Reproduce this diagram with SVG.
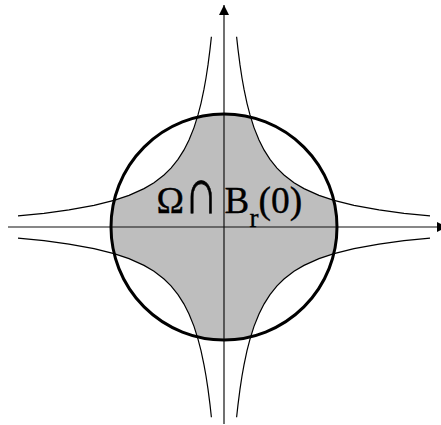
<svg xmlns="http://www.w3.org/2000/svg" xmlns:xlink="http://www.w3.org/1999/xlink" width="441" height="425" viewBox="0 0 441 425">
  <style>
    .curve { fill: none; stroke: #000; stroke-width: 1.2; }
    .axis { fill: none; stroke: #111; stroke-width: 1.2; }
    .fillq { fill: #bebebe; stroke: none; }
    .circle { fill: none; stroke: #000; stroke-width: 3; }
    .lbl { font-family: "Liberation Serif", "DejaVu Serif", serif; fill: #000; stroke: #000; stroke-width: 0.35; }
  </style>
  <defs>
    <path id="hq" d="M12.6,-190.2 L14,-177.6 L16,-162.1 L18,-149 L20,-137.8 L23,-123.7 L26,-112.1 L30,-99.4 L35,-86.95 L40,-77.06 L46,-67.61 L53,-58.93 L60,-52.04 L70,-44.35 L80,-38.4 L95,-31.64 L110,-26.6 L130,-21.59 L155,-17.05 L180,-13.72 L206,-11.08"/>
    <path id="fq" d="M0,0 L0,-190.2 L12.6,-190.2 L14,-177.6 L16,-162.1 L18,-149 L20,-137.8 L23,-123.7 L26,-112.1 L30,-99.4 L35,-86.95 L40,-77.06 L46,-67.61 L53,-58.93 L60,-52.04 L70,-44.35 L80,-38.4 L95,-31.64 L110,-26.6 L130,-21.59 L155,-17.05 L180,-13.72 L206,-11.08 L206,0 Z"/>
    <clipPath id="disk">
      <circle cx="0" cy="0" r="113"/>
    </clipPath>
    <marker id="arr" viewBox="0 0 10 10" refX="10" refY="5" markerWidth="10" markerHeight="10" markerUnits="userSpaceOnUse" orient="auto">
      <path d="M0,0 L10,5 L0,10 Z" fill="#000"/>
    </marker>
  </defs>
  <g transform="translate(224,227)">
    <g id="region" clip-path="url(#disk)">
      <use xlink:href="#fq" class="fillq"/>
      <use xlink:href="#fq" class="fillq" transform="scale(-1,1)"/>
      <use xlink:href="#fq" class="fillq" transform="scale(1,-1)"/>
      <use xlink:href="#fq" class="fillq" transform="scale(-1,-1)"/>
    </g>
    <g id="hyperbolas">
      <use xlink:href="#hq" class="curve"/>
      <use xlink:href="#hq" class="curve" transform="scale(-1,1)"/>
      <use xlink:href="#hq" class="curve" transform="scale(1,-1)"/>
      <use xlink:href="#hq" class="curve" transform="scale(-1,-1)"/>
    </g>
  </g>
  <g id="connectors">
    <line class="axis" x1="224" y1="424" x2="224" y2="5" marker-end="url(#arr)"/>
    <line class="axis" x1="8" y1="227" x2="447" y2="227" marker-end="url(#arr)"/>
  </g>
  <g id="ball">
    <circle class="circle" cx="224" cy="227" r="113"/>
  </g>
  <g id="label">
    <text class="lbl" font-size="37" x="156.5" y="213">Ω</text>
    <text class="lbl" font-size="37" transform="translate(184.5,213) scale(1.25,1.75)">∩</text>
    <text class="lbl" font-size="37" y="213"><tspan x="224.5">B</tspan><tspan x="249.4" y="226.5" font-size="27">r</tspan><tspan x="258.5" y="213" font-size="37.5">(0)</tspan></text>
  </g>
</svg>
